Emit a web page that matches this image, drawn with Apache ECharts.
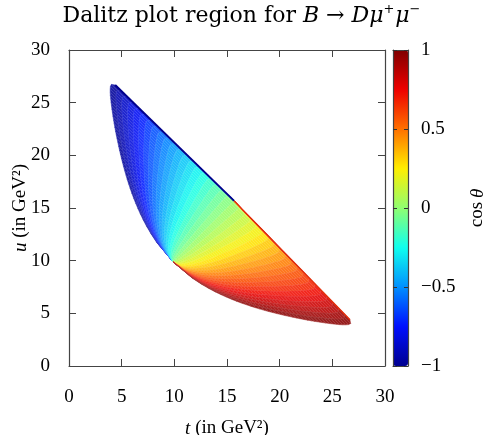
<!DOCTYPE html>
<html>
<head>
<meta charset="utf-8">
<script src="https://cdn.jsdelivr.net/npm/echarts@6/dist/echarts.min.js"></script>
<style>
  html, body { margin: 0; padding: 0; background: #fff; }
  #chart { width: 484px; height: 435px; }
</style>
</head>
<body>
<div id="chart"></div>
<script>
// rows of the Dalitz region, read off the picture along lines t+u = const
// rowSum = t+u of the row, rowSpan = largest t-u reached on that row
const rowSum = [31.35, 31.06, 30.77, 30.48, 30.19, 29.90, 29.61, 29.32, 29.03, 28.74,
                28.45, 28.16, 27.87, 27.58, 27.29, 27.00, 26.71, 26.42, 26.14, 25.85,
                25.56, 25.27, 24.98, 24.69, 24.40, 24.11, 23.82, 23.53, 23.24, 22.95,
                22.66, 22.37, 22.08, 21.79, 21.50, 21.21, 20.92, 20.63, 20.34, 20.05, 19.76];
const rowSpan = [0, 22.29, 22.71, 22.62, 22.38, 22.09, 21.76, 21.41, 21.05, 20.68,
                 20.30, 19.91, 19.52, 19.12, 18.71, 18.30, 17.88, 17.45, 17.02, 16.58,
                 16.13, 15.68, 15.21, 14.74, 14.25, 13.76, 13.25, 12.73, 12.19, 11.63,
                 11.05, 10.45, 9.82, 9.15, 8.44, 7.68, 6.85, 5.91, 4.81, 3.39, 0];
// cos(theta) levels of the mesh columns
const cosLevels = [-1, -0.95, -0.9, -0.85, -0.8, -0.75, -0.7, -0.65, -0.6, -0.55, -0.5,
                   -0.45, -0.4, -0.35, -0.3, -0.25, -0.2, -0.15, -0.1, -0.05, 0,
                   0.05, 0.1, 0.15, 0.2, 0.25, 0.3, 0.35, 0.4, 0.45, 0.5,
                   0.55, 0.6, 0.65, 0.7, 0.75, 0.8, 0.85, 0.9, 0.95, 1];
const axisTicks = [0, 5, 10, 15, 20, 25, 30];
const barTicks = [-1, -0.5, 0, 0.5, 1];
const jet = ['#000090', '#000fff', '#0090ff', '#0fffee', '#90ff70',
             '#ffee00', '#ff7000', '#ee0000', '#7f0000'];

let cells = [];
for (let r = 0; r < rowSum.length - 1; r++) {
  for (let j = 0; j < cosLevels.length - 1; j++) {
    cells.push([r, j, (cosLevels[j] + cosLevels[j + 1]) / 2]);
  }
}

// point (t,u) of a mesh node
function node(r, c) {
  return [(rowSum[r] + c * rowSpan[r]) / 2, (rowSum[r] - c * rowSpan[r]) / 2];
}

const serif = 'Liberation Serif';
const frame = '#444';
const tickStep = axisTicks[1] - axisTicks[0];
const barStep = barTicks[1] - barTicks[0];
const minus = v => (v < 0 ? '\u2212' + Math.abs(v) : String(v));
const ttl = { fontFamily: 'DejaVu Serif', fontSize: 22, fontWeight: 'normal', color: '#000', lineHeight: 26 };
const line = { onZero: false, lineStyle: { color: frame, width: 1.2 } };
const tick = { inside: true, length: 7, lineStyle: { color: frame } };
const nameStyle = {
  fontFamily: serif, fontSize: 19, color: '#000',
  rich: { i: { fontFamily: serif, fontSize: 19, fontStyle: 'italic', color: '#000' } }
};

let myChart = echarts.init(document.getElementById('chart'));
myChart.setOption({
  animation: false,
  title: {
    text: '{n|Dalitz plot region for }{i|B}{n| \u2192 }{i|D\u03bc}{s|+}{i|\u03bc}{s|\u2212}',
    left: 'center',
    top: -2,
    textStyle: {
      fontWeight: 'normal',
      rich: {
        n: ttl,
        i: Object.assign({}, ttl, { fontStyle: 'italic' }),
        s: Object.assign({}, ttl, { fontSize: 13, verticalAlign: 'top', padding: [0, 1, 10, 0] })
      }
    }
  },
  grid: [
    { left: 69, top: 50, width: 316, height: 316, outerBoundsMode: 'none' },
    { left: 393, top: 50, width: 15, height: 316, outerBoundsMode: 'none' }
  ],
  xAxis: [
    {
      gridIndex: 0, type: 'value', position: 'bottom',
      min: axisTicks[0], max: axisTicks[axisTicks.length - 1], interval: tickStep,
      axisLine: line, axisTick: tick,
      axisLabel: { fontFamily: serif, fontSize: 19, color: '#000', margin: 22 },
      splitLine: { show: false },
      name: '{i|t} (in GeV\u00b2)', nameLocation: 'middle', nameGap: 53,
      nameTextStyle: nameStyle
    },
    {
      gridIndex: 0, type: 'value', position: 'top',
      min: axisTicks[0], max: axisTicks[axisTicks.length - 1], interval: tickStep,
      axisLine: line, axisTick: tick,
      axisLabel: { show: false }, splitLine: { show: false }
    },
    {
      gridIndex: 1, type: 'value', position: 'bottom', min: 0, max: 1, z: 10,
      axisLine: line,
      axisTick: { show: false }, axisLabel: { show: false }, splitLine: { show: false }
    },
    {
      gridIndex: 1, type: 'value', position: 'top', min: 0, max: 1, z: 10,
      axisLine: line,
      axisTick: { show: false }, axisLabel: { show: false }, splitLine: { show: false }
    }
  ],
  yAxis: [
    {
      gridIndex: 0, type: 'value', position: 'left',
      min: axisTicks[0], max: axisTicks[axisTicks.length - 1], interval: tickStep,
      axisLine: line, axisTick: tick,
      axisLabel: { fontFamily: serif, fontSize: 19, color: '#000', margin: 19 },
      splitLine: { show: false },
      name: '{i|u} (in GeV\u00b2)', nameLocation: 'middle', nameGap: 39, nameRotate: 90,
      nameMoveOverlap: false,
      nameTextStyle: nameStyle
    },
    {
      gridIndex: 0, type: 'value', position: 'right',
      min: axisTicks[0], max: axisTicks[axisTicks.length - 1], interval: tickStep,
      axisLine: line, axisTick: tick,
      axisLabel: { show: false }, splitLine: { show: false }
    },
    {
      gridIndex: 1, type: 'value', position: 'right', z: 10,
      min: barTicks[0], max: barTicks[barTicks.length - 1], interval: barStep,
      axisLine: line,
      axisTick: { inside: true, length: 5, lineStyle: { color: '#333', type: 'dashed' } },
      axisLabel: { fontFamily: serif, fontSize: 19, color: '#000', margin: 13, formatter: minus },
      splitLine: { show: false },
      name: 'cos\u2009{i|\u03b8}', nameLocation: 'middle', nameGap: 60, nameRotate: 90,
      nameTextStyle: nameStyle
    },
    {
      gridIndex: 1, type: 'value', position: 'left', z: 10,
      min: barTicks[0], max: barTicks[barTicks.length - 1], interval: barStep,
      axisLine: line,
      axisTick: { inside: true, length: 5, lineStyle: { color: '#333', type: 'dashed' } },
      axisLabel: { show: false }, splitLine: { show: false }
    }
  ],
  visualMap: {
    type: 'continuous',
    min: barTicks[0], max: barTicks[barTicks.length - 1],
    dimension: 2,
    seriesIndex: 0,
    calculable: false,
    orient: 'vertical',
    left: 393, top: 50, padding: 0,
    itemWidth: 15, itemHeight: 316,
    inRange: { color: jet }
  },
  series: [
    {
      type: 'custom',
      xAxisIndex: 0, yAxisIndex: 0,
      data: cells,
      encode: { x: 0, y: 1 },
      renderItem: (params, api) => {
        const r = api.value(0);
        const j = api.value(1);
        const c0 = cosLevels[j];
        const c1 = cosLevels[j + 1];
        const pts = [node(r, c0), node(r, c1), node(r + 1, c1), node(r + 1, c0)].map(p => api.coord(p));
        const fill = echarts.color.lerp(0.12, [api.visual('color'), '#ffffff']);
        return {
          type: 'polygon',
          shape: { points: pts },
          style: {
            fill: fill,
            stroke: echarts.color.lerp(0.22, [api.visual('color'), '#ffffff']),
            lineWidth: 0.5
          }
        };
      }
    },
    {
      // upper edge, c = -1 half
      type: 'line', xAxisIndex: 0, yAxisIndex: 0,
      data: [node(1, cosLevels[0]), node(0, 0)],
      symbol: 'none', lineStyle: { color: '#00008c', width: 2 }, z: 3
    },
    {
      // upper edge, c = +1 half
      type: 'line', xAxisIndex: 0, yAxisIndex: 0,
      data: [node(0, 0), node(1, cosLevels[cosLevels.length - 1])],
      symbol: 'none', lineStyle: { color: '#e5300c', width: 1.4 }, z: 3
    }
  ]
});

window.addEventListener('resize', () => {
  myChart.resize();
});
</script>
</body>
</html>
